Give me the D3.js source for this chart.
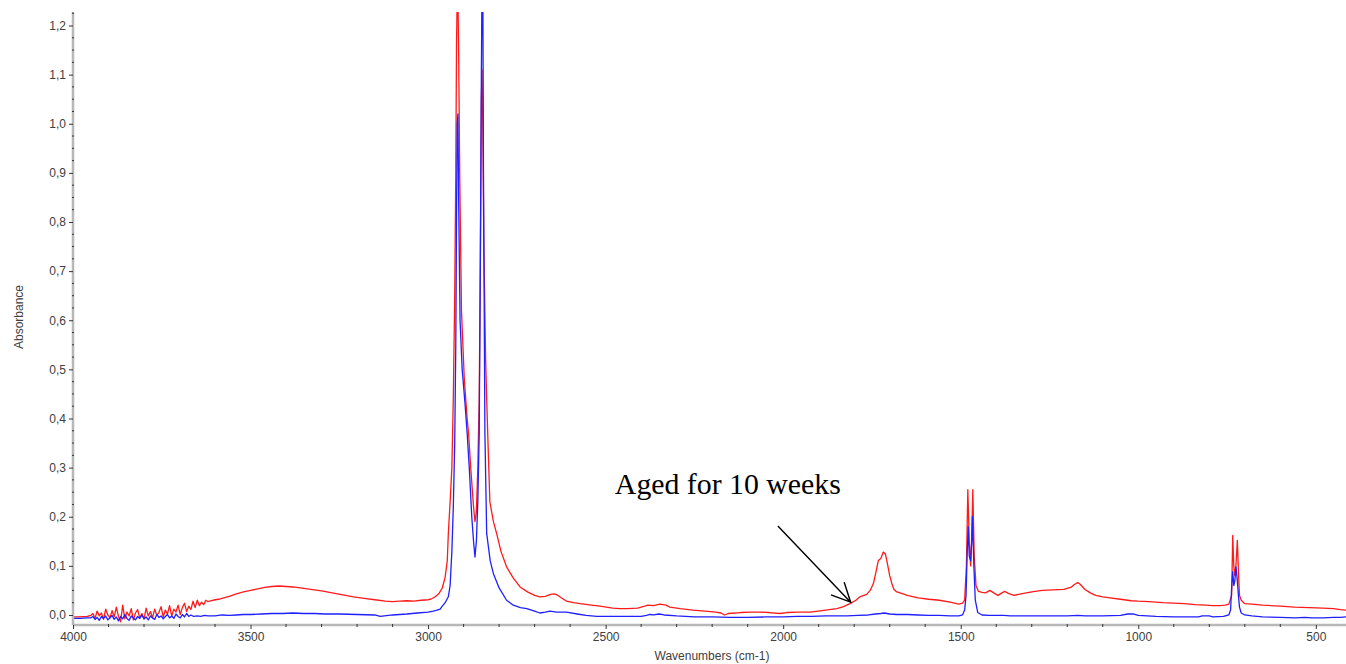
<!DOCTYPE html>
<html>
<head>
<meta charset="utf-8">
<script src="https://cdn.jsdelivr.net/npm/d3@7"></script>
<style>
  body { margin: 0; background: #fff; }
</style>
</head>
<body>
<script>
// aged sample (red): [wavenumber, absorbance]
const agedSpectrum = [
  [4000,-0.004],[3985,-0.004],[3960,-0.003],[3950,-0.001],
  [3944,0.003],[3938,-0.007],[3932,0.008],[3926,-0.002],[3920,0.004],[3914,-0.009],[3908,0.012],[3902,0.0],
  [3896,-0.006],[3890,0.009],[3884,-0.004],[3878,0.016],[3872,-0.003],[3866,-0.014],[3860,0.02],[3854,-0.008],
  [3848,0.006],[3842,-0.002],[3836,0.013],[3830,-0.01],[3824,0.004],[3818,0.011],[3812,-0.006],[3806,0.003],
  [3800,-0.008],[3794,0.014],[3788,-0.002],[3782,0.007],[3776,-0.006],[3770,0.012],[3764,-0.001],[3758,0.005],
  [3752,0.017],[3746,-0.004],[3740,0.01],[3734,0.002],[3728,0.019],[3722,-0.002],[3716,0.012],[3710,0.006],
  [3704,0.02],[3698,0.001],[3692,0.015],[3686,0.024],[3680,0.007],[3674,0.018],[3668,0.011],[3662,0.028],
  [3656,0.015],[3650,0.03],[3644,0.019],[3638,0.026],[3632,0.021],[3626,0.03],[3620,0.027],[3610,0.029],
  [3600,0.031],[3590,0.032],[3580,0.034],[3560,0.038],[3540,0.043],[3520,0.047],[3500,0.05],[3480,0.053],
  [3460,0.056],[3440,0.058],[3420,0.059],[3400,0.058],[3380,0.057],[3360,0.055],[3330,0.052],[3300,0.049],
  [3270,0.045],[3240,0.041],[3210,0.037],[3180,0.034],[3150,0.031],[3120,0.028],[3100,0.027],[3080,0.028],
  [3060,0.029],[3040,0.028],[3020,0.03],[3000,0.031],[2990,0.033],[2980,0.037],[2970,0.043],[2960,0.055],
  [2952,0.077],[2946,0.11],[2943,0.166],[2938,0.23],[2933,0.3],[2929,0.44],[2925,0.65],[2922,0.9],
  [2920,1.16],[2918,1.26],[2916,1.26],[2914,1.15],[2911,0.9],[2906,0.62],[2898,0.48],[2890,0.4],
  [2886,0.37],[2880,0.3],[2877,0.27],[2872,0.22],[2868,0.19],[2864,0.21],[2860,0.3],[2856,0.44],
  [2853,0.7],[2850,1.05],[2848,1.11],[2846,1.0],[2843,0.75],[2838,0.52],[2835,0.44],[2830,0.32],
  [2826,0.23],[2816,0.19],[2807,0.166],[2795,0.13],[2779,0.098],[2760,0.075],[2741,0.057],[2720,0.047],
  [2700,0.04],[2685,0.037],[2670,0.038],[2655,0.042],[2645,0.043],[2637,0.041],[2625,0.035],[2610,0.028],
  [2590,0.025],[2572,0.023],[2540,0.02],[2516,0.018],[2480,0.014],[2460,0.013],[2440,0.013],[2410,0.014],
  [2390,0.018],[2381,0.02],[2365,0.019],[2347,0.022],[2330,0.02],[2319,0.016],[2290,0.013],[2254,0.01],
  [2220,0.008],[2190,0.006],[2175,0.004],[2165,0.0],[2155,0.003],[2120,0.005],[2090,0.006],[2065,0.006],
  [2040,0.005],[2009,0.003],[1990,0.005],[1960,0.006],[1924,0.006],[1890,0.009],[1870,0.011],[1849,0.013],
  [1830,0.017],[1812,0.023],[1795,0.03],[1784,0.037],[1765,0.042],[1755,0.05],[1746,0.064],[1738,0.09],
  [1732,0.111],[1725,0.115],[1718,0.128],[1712,0.124],[1708,0.11],[1700,0.08],[1694,0.064],[1688,0.052],
  [1680,0.047],[1671,0.045],[1650,0.04],[1620,0.035],[1590,0.032],[1560,0.03],[1530,0.026],[1505,0.022],
  [1495,0.024],[1489,0.03],[1484,0.1],[1480,0.255],[1476,0.15],[1472,0.1],[1469,0.16],[1466,0.255],
  [1462,0.12],[1457,0.06],[1450,0.048],[1440,0.046],[1430,0.045],[1418,0.05],[1405,0.044],[1395,0.04],
  [1384,0.045],[1376,0.048],[1366,0.044],[1350,0.04],[1330,0.043],[1300,0.047],[1270,0.05],[1240,0.051],
  [1210,0.052],[1190,0.056],[1180,0.062],[1170,0.066],[1163,0.062],[1150,0.052],[1135,0.045],[1120,0.04],
  [1100,0.037],[1080,0.035],[1050,0.032],[1020,0.029],[1000,0.028],[970,0.027],[930,0.025],[900,0.024],
  [870,0.023],[840,0.021],[810,0.02],[790,0.019],[770,0.019],[755,0.02],[745,0.022],[737,0.04],
  [734,0.162],[731,0.1],[728,0.08],[725,0.1],[721,0.152],[718,0.09],[715,0.04],[710,0.03],
  [700,0.023],[680,0.022],[650,0.02],[600,0.018],[560,0.016],[520,0.015],[480,0.014],[450,0.013],
  [430,0.011],[415,0.01]
];

// reference sample (blue)
const refSpectrum = [
  [4000,-0.007],[3980,-0.007],[3960,-0.006],[3950,-0.006],
  [3944,-0.003],[3938,-0.009],[3932,-0.005],[3926,-0.011],[3920,-0.003],[3914,-0.007],[3908,-0.002],[3902,-0.01],
  [3896,-0.006],[3890,-0.001],[3884,-0.009],[3878,-0.004],[3872,-0.012],[3866,-0.003],[3860,-0.008],[3854,0.001],
  [3848,-0.007],[3842,-0.011],[3836,-0.002],[3830,-0.006],[3824,-0.01],[3818,-0.003],[3812,-0.007],[3806,0.0],
  [3800,-0.008],[3794,-0.004],[3788,-0.01],[3782,-0.002],[3776,-0.006],[3770,-0.009],[3764,0.001],[3758,-0.005],
  [3752,-0.002],[3746,-0.008],[3740,-0.003],[3734,0.001],[3728,-0.006],[3722,-0.002],[3716,-0.007],[3710,0.002],
  [3704,-0.003],[3698,-0.006],[3692,0.001],[3686,-0.004],[3680,0.003],[3674,-0.003],[3668,0.0],[3660,-0.003],
  [3650,-0.002],[3640,-0.003],[3630,-0.001],[3620,-0.002],[3600,-0.002],[3580,0.0],[3560,-0.001],[3540,0.0],
  [3520,0.001],[3500,0.001],[3470,0.002],[3440,0.003],[3410,0.003],[3380,0.004],[3350,0.003],[3320,0.003],
  [3290,0.002],[3250,0.002],[3200,0.001],[3150,0.0],[3135,-0.003],[3100,0.0],[3060,0.002],[3030,0.004],
  [3000,0.006],[2985,0.008],[2975,0.01],[2966,0.012],[2960,0.018],[2952,0.025],[2943,0.037],[2938,0.06],
  [2933,0.13],[2929,0.22],[2925,0.35],[2922,0.55],[2920,0.8],[2918,1.0],[2916,1.02],[2914,0.85],
  [2910,0.6],[2904,0.5],[2896,0.43],[2890,0.37],[2884,0.3],[2877,0.2],[2872,0.15],[2868,0.118],
  [2864,0.15],[2860,0.23],[2856,0.37],[2853,0.7],[2850,1.1],[2848,1.3],[2846,1.3],[2844,0.9],
  [2840,0.37],[2835,0.166],[2825,0.11],[2816,0.084],[2800,0.055],[2779,0.03],[2760,0.02],[2740,0.015],
  [2722,0.013],[2700,0.008],[2685,0.004],[2670,0.006],[2657,0.008],[2638,0.006],[2610,0.006],[2580,0.002],
  [2555,-0.001],[2525,-0.003],[2480,-0.003],[2440,-0.003],[2400,-0.003],[2385,-0.001],[2375,0.001],[2365,0.0],
  [2350,0.002],[2335,0.0],[2300,-0.002],[2250,-0.004],[2200,-0.004],[2150,-0.005],[2100,-0.005],[2050,-0.004],
  [2000,-0.004],[1960,-0.003],[1920,-0.003],[1880,-0.002],[1850,-0.002],[1820,-0.002],[1790,-0.001],[1760,0.0],
  [1740,0.002],[1725,0.003],[1715,0.004],[1700,0.002],[1680,0.001],[1650,0.001],[1620,0.0],[1590,-0.001],
  [1560,-0.001],[1530,-0.002],[1505,-0.002],[1495,0.0],[1489,0.01],[1485,0.04],[1482,0.12],[1479,0.18],
  [1476,0.12],[1472,0.11],[1469,0.15],[1467,0.2],[1463,0.1],[1459,0.03],[1452,0.005],[1440,0.0],
  [1420,-0.001],[1380,-0.001],[1360,-0.002],[1300,-0.002],[1250,-0.002],[1200,-0.002],[1170,-0.001],[1150,-0.002],
  [1100,-0.002],[1050,-0.001],[1030,0.002],[1015,0.002],[1000,-0.001],[950,-0.003],[900,-0.004],[860,-0.004],
  [830,-0.004],[820,-0.002],[800,-0.002],[790,-0.004],[760,-0.003],[745,0.0],[740,0.01],[737,0.057],
  [734,0.088],[731,0.06],[728,0.07],[725,0.098],[721,0.07],[718,0.04],[715,0.016],[710,0.004],
  [700,0.0],[680,-0.002],[650,-0.004],[600,-0.005],[560,-0.006],[530,-0.005],[510,-0.006],[480,-0.006],
  [450,-0.005],[430,-0.005],[415,-0.004]
];

const xTicks = [4000, 3500, 3000, 2500, 2000, 1500, 1000, 500];
const yTicks = [0, 0.1, 0.2, 0.3, 0.4, 0.5, 0.6, 0.7, 0.8, 0.9, 1.0, 1.1, 1.2];
const annotation = { text: 'Aged for 10 weeks', textAt: [2474, 0.247], from: [2015, 0.181], to: [1810, 0.026] };

const width = 1346;
const height = 664;
const plotLeft = 73, plotRight = 1346, plotTop = 12, plotBottom = 625;
const sans = 'Arial, "Liberation Sans", sans-serif';

const svg = d3.select('body')
  .append('svg')
  .attr('width', width)
  .attr('height', height);

const x = d3.scaleLinear().domain([4000, 415]).range([plotLeft, plotRight]);
const y = d3.scaleLinear().domain([-0.0204, 1.2275]).range([plotBottom, plotTop]);

svg.append('clipPath').attr('id', 'plot')
  .append('rect')
  .attr('x', plotLeft).attr('y', plotTop)
  .attr('width', plotRight - plotLeft).attr('height', plotBottom - plotTop);

const line = d3.line()
  .x(d => x(d[0]))
  .y(d => y(d[1]));

const plot = svg.append('g').attr('clip-path', 'url(#plot)');

plot.append('path')
  .datum(agedSpectrum)
  .attr('fill', 'none')
  .attr('stroke', '#ff1a1a')
  .attr('stroke-width', 1.3)
  .attr('stroke-linejoin', 'round')
  .attr('d', line);

plot.append('path')
  .datum(refSpectrum)
  .attr('fill', 'none')
  .attr('stroke', '#1f1fff')
  .attr('stroke-width', 1.3)
  .attr('stroke-linejoin', 'round')
  .attr('d', line);

// axis lines (grey band like the original software)
svg.append('line')
  .attr('x1', plotLeft).attr('x2', plotLeft).attr('y1', plotTop).attr('y2', plotBottom)
  .attr('stroke', '#b8b8b8').attr('stroke-width', 2.5);
svg.append('line')
  .attr('x1', plotLeft).attr('x2', plotRight).attr('y1', plotBottom).attr('y2', plotBottom)
  .attr('stroke', '#b8b8b8').attr('stroke-width', 2.5);

// y axis
const yAxis = d3.axisLeft(y)
  .tickValues(yTicks)
  .tickSize(4)
  .tickPadding(3)
  .tickFormat(d => d3.format('.1f')(d).replace('.', ','));
const yg = svg.append('g')
  .attr('transform', `translate(${plotLeft},0)`)
  .call(yAxis);
yg.select('.domain').remove();
yg.selectAll('line').attr('stroke', '#333');
yg.selectAll('text').attr('font-size', 12).attr('font-family', sans).attr('fill', '#404040');

const yMinor = d3.range(0.025, 1.225, 0.025).filter(v => Math.abs(v * 10 - Math.round(v * 10)) > 0.01);
svg.append('g').selectAll('line')
  .data(yMinor)
  .enter()
  .append('line')
  .attr('x1', plotLeft - 1).attr('x2', plotLeft + 1)
  .attr('y1', d => y(d)).attr('y2', d => y(d))
  .attr('stroke', '#333');

// x axis
const xAxis = d3.axisBottom(x)
  .tickValues(xTicks)
  .tickSize(4)
  .tickPadding(3)
  .tickFormat(d3.format('d'));
const xg = svg.append('g')
  .attr('transform', `translate(0,${plotBottom})`)
  .call(xAxis);
xg.select('.domain').remove();
xg.selectAll('line').attr('stroke', '#333');
xg.selectAll('text').attr('font-size', 12).attr('font-family', sans).attr('fill', '#404040');

const xMinor = d3.range(3900, 400, -100).filter(v => v % 500 !== 0);
svg.append('g').selectAll('line')
  .data(xMinor)
  .enter()
  .append('line')
  .attr('x1', d => x(d)).attr('x2', d => x(d))
  .attr('y1', plotBottom - 1).attr('y2', plotBottom + 2)
  .attr('stroke', '#333');

// axis titles
svg.append('text')
  .attr('x', 712).attr('y', 660)
  .attr('text-anchor', 'middle')
  .attr('font-family', sans)
  .attr('font-size', 12)
  .attr('fill', '#404040')
  .text('Wavenumbers (cm-1)');

svg.append('text')
  .attr('transform', 'translate(23,317) rotate(-90)')
  .attr('text-anchor', 'middle')
  .attr('font-family', sans)
  .attr('font-size', 12)
  .attr('fill', '#404040')
  .text('Absorbance');

// annotation with open arrow
svg.append('text')
  .attr('x', x(annotation.textAt[0]))
  .attr('y', y(annotation.textAt[1]))
  .attr('font-family', '"Liberation Serif", "Times New Roman", serif')
  .attr('font-size', 29.8)
  .attr('fill', '#000')
  .text(annotation.text);

const ax1 = x(annotation.from[0]), ay1 = y(annotation.from[1]);
const ax2 = x(annotation.to[0]), ay2 = y(annotation.to[1]);
const ang = Math.atan2(ay2 - ay1, ax2 - ax1);
const head = 21, spread = 0.45;
svg.append('path')
  .attr('fill', 'none')
  .attr('stroke', '#000')
  .attr('stroke-width', 1.4)
  .attr('d', `M${ax1},${ay1}L${ax2},${ay2}` +
    `M${ax2 - head * Math.cos(ang - spread)},${ay2 - head * Math.sin(ang - spread)}L${ax2},${ay2}` +
    `L${ax2 - head * Math.cos(ang + spread)},${ay2 - head * Math.sin(ang + spread)}`);
</script>
</body>
</html>
